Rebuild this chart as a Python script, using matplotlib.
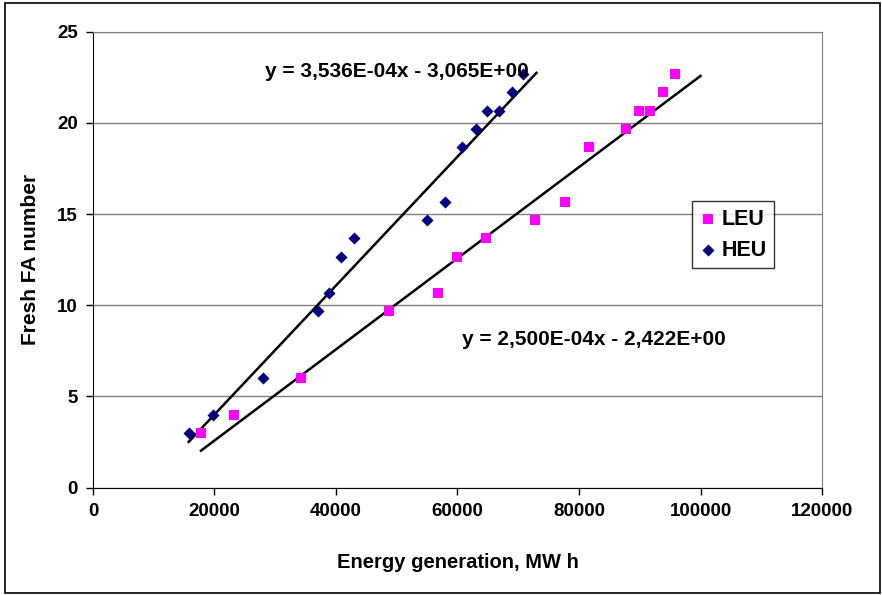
import numpy as np
import matplotlib
matplotlib.use('Agg')
import matplotlib.pyplot as plt
from matplotlib.patches import Rectangle

plt.rcParams['font.family'] = ['Liberation Sans', 'DejaVu Sans']
plt.rcParams['font.weight'] = 'bold'

# HEU points (energy, FA number)
heu_x = [15850, 19700, 27930, 36990, 38850, 40870, 43010, 54910, 57890,
         60790, 62990, 64860, 66880, 68970, 70830]
heu_y = [3, 4, 6, 9.67, 10.67, 12.67, 13.67, 14.67, 15.67,
         18.67, 19.67, 20.67, 20.67, 21.67, 22.67]

# LEU points
leu_x = [17730, 23160, 34240, 48670, 56790, 59870, 64690, 72800, 77700,
         81700, 87740, 89830, 91690, 93780, 95800]
leu_y = [3, 4, 6, 9.67, 10.67, 12.67, 13.67, 14.67, 15.67,
         18.67, 19.67, 20.67, 20.67, 21.67, 22.67]

# trendline coefficients and drawn ranges
heu_fit = (3.536e-4, -3.065)
leu_fit = (2.500e-4, -2.422)
heu_range = [15750, 73000]
leu_range = [17780, 100000]

fig = plt.figure(figsize=(8.82, 5.95), dpi=100)
ax = fig.add_axes([0.1054, 0.1806, 0.8266, 0.766])

ax.yaxis.grid(True, color='#808080', linewidth=1)
ax.set_axisbelow(True)

hx = np.array(heu_range)
lx = np.array(leu_range)
ax.plot(hx, heu_fit[0] * hx + heu_fit[1], color='black', lw=1.8, zorder=2)
ax.plot(lx, leu_fit[0] * lx + leu_fit[1], color='black', lw=1.8, zorder=2)

ax.scatter(leu_x, leu_y, marker='s', s=48, color='#FF00FF', label='LEU', zorder=3, linewidths=0)
ax.scatter(heu_x, heu_y, marker='D', s=38, color='#000080', label='HEU', zorder=3, linewidths=0)

ax.text(28300, 22.8, 'y = 3,536E-04x - 3,065E+00', fontsize=15, fontweight='bold', va='center')
ax.text(60700, 8.1, 'y = 2,500E-04x - 2,422E+00', fontsize=15, fontweight='bold', va='center')

ax.set_xlim(0, 120000)
ax.set_ylim(0, 25)
ax.set_xticks(np.arange(0, 120001, 20000))
ax.set_yticks(np.arange(0, 26, 5))
ax.tick_params(axis='both', direction='out', length=5, width=1, labelsize=13.5, pad=6)
for lab in ax.get_xticklabels() + ax.get_yticklabels():
    lab.set_fontweight('bold')

ax.spines['top'].set_color('#808080')
ax.spines['right'].set_color('#808080')
ax.spines['left'].set_color('black')
ax.spines['bottom'].set_color('black')

ax.set_xlabel('Energy generation, MW h', fontsize=14.5, fontweight='bold', labelpad=24)
ax.set_ylabel('Fresh FA number', fontsize=15, fontweight='bold', labelpad=12)

leg = ax.legend(loc='upper left', bbox_to_anchor=(0.822, 0.628), fontsize=15.5,
                frameon=True, fancybox=False, edgecolor='black', handletextpad=0.2,
                borderpad=0.35, labelspacing=0.45, handlelength=0.8, borderaxespad=0)
leg.get_frame().set_linewidth(1)
for t in leg.get_texts():
    t.set_fontweight('bold')

fig.patches.append(Rectangle((5 / 882, 2 / 595), 875 / 882, 590 / 595,
                             transform=fig.transFigure, fill=False,
                             edgecolor='black', linewidth=1.2))

fig.savefig('out.png', dpi=100)
